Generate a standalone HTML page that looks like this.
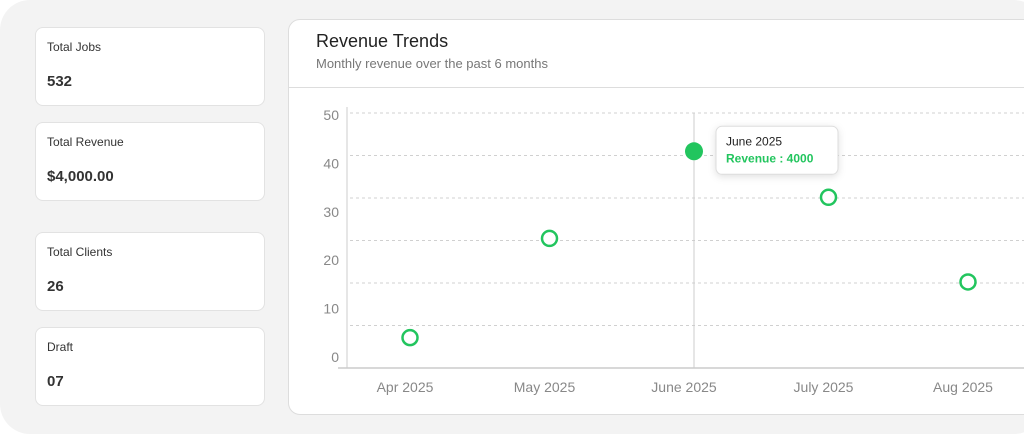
<!DOCTYPE html>
<html><head><meta charset="utf-8"><style>
body{margin:0;width:1024px;height:434px;background:#fff;font-family:"Liberation Sans",sans-serif;overflow:hidden;position:relative}
.panel{position:absolute;left:0;top:0;width:1044px;height:434px;background:#f3f3f3;border-radius:30px}
.card{position:absolute;left:35px;width:228px;height:77px;background:#fff;border:1px solid #e2e2e2;border-radius:8px}
.card .l{position:absolute;left:11px;top:12px;font-size:12px;color:#333}
.card .v{position:absolute;left:11px;top:45px;font-size:15px;font-weight:bold;color:#333}
.chart{position:absolute;left:288px;top:19px;width:760px;height:394px;background:#fff;border:1px solid #ddd;border-radius:12px}
</style></head><body>
<div class="panel"></div>
<div class="card" style="top:27px"><div class="l">Total Jobs</div><div class="v">532</div></div>
<div class="card" style="top:122px"><div class="l">Total Revenue</div><div class="v">$4,000.00</div></div>
<div class="card" style="top:232px"><div class="l">Total Clients</div><div class="v">26</div></div>
<div class="card" style="top:327px"><div class="l">Draft</div><div class="v">07</div></div>
<div class="chart">
<div style="position:absolute;left:27px;top:11px;font-size:18px;color:#222">Revenue Trends</div>
<div style="position:absolute;left:27px;top:36px;font-size:13px;color:#777">Monthly revenue over the past 6 months</div>
<div style="position:absolute;left:0;top:67px;width:100%;height:1px;background:#ddd"></div>
</div>
<svg id="plot" width="1024" height="434" style="position:absolute;left:0;top:0"></svg>
<script>
const categories=["Apr 2025","May 2025","June 2025","July 2025","Aug 2025"];
const revenue=[4,24.5,42.5,33,15.5];
const yTicks=[0,10,20,30,40,50];
const gridCount=6;
const ns="http://www.w3.org/2000/svg";
const svg=document.getElementById('plot');
const x=i=>410+i*139.5;
const y=v=>357-v*4.84;
function mk(t,a){const e=document.createElementNS(ns,t);for(const k in a)e.setAttribute(k,a[k]);svg.appendChild(e);return e;}
for(let g=0;g<gridCount;g++){const gy=113+g*42.5;
const l=mk('line',{x1:350,x2:1024,y1:gy,y2:gy,stroke:'#d0d0d0','stroke-dasharray':'3 3'});

}
const ya=mk('line',{x1:347,x2:347,y1:107,y2:368,stroke:'#ccc'});


const xa=mk('line',{x1:338,x2:1024,y1:368,y2:368,stroke:'#ccc','stroke-width':1.5});


yTicks.forEach(t=>{const e=mk('text',{x:339,y:y(t)+5,'text-anchor':'end','font-size':14,fill:'#888'});e.textContent=t;

});
categories.forEach((c,i)=>{const e=mk('text',{x:x(i)-5,y:392,'text-anchor':'middle','font-size':14,fill:'#888'});e.textContent=c;

});
const active=2;
const cur=mk('line',{x1:x(active)+5,x2:x(active)+5,y1:113,y2:368,stroke:'#ccc'});


revenue.forEach((v,i)=>{const act=i===active;
const c=mk('circle',{cx:x(i)+(act?5:0),cy:y(v),r:act?9:7.5,fill:act?'#22c55e':'#fff',stroke:'#22c55e','stroke-width':act?0:2.5});

});
const g=mk('g',{});


const tx=x(active)+27, ty=y(revenue[active])-25;
const r=document.createElementNS(ns,'rect');
[['x',tx],['y',ty],['width',122],['height',48],['rx',6],['fill','#fff'],['stroke','#ddd']].forEach(a=>r.setAttribute(a[0],a[1]));
r.setAttribute('style','filter:drop-shadow(0 2px 4px rgba(0,0,0,.12))');g.appendChild(r);
const t1=document.createElementNS(ns,'text');t1.setAttribute('x',tx+10);t1.setAttribute('y',ty+19);t1.setAttribute('font-size',12);t1.setAttribute('fill','#222');t1.textContent=categories[active];g.appendChild(t1);
const t2=document.createElementNS(ns,'text');t2.setAttribute('x',tx+10);t2.setAttribute('y',ty+36);t2.setAttribute('font-size',12);t2.setAttribute('font-weight','bold');t2.setAttribute('fill','#22c55e');t2.textContent='Revenue : 4000';g.appendChild(t2);
</script>
</body></html>
